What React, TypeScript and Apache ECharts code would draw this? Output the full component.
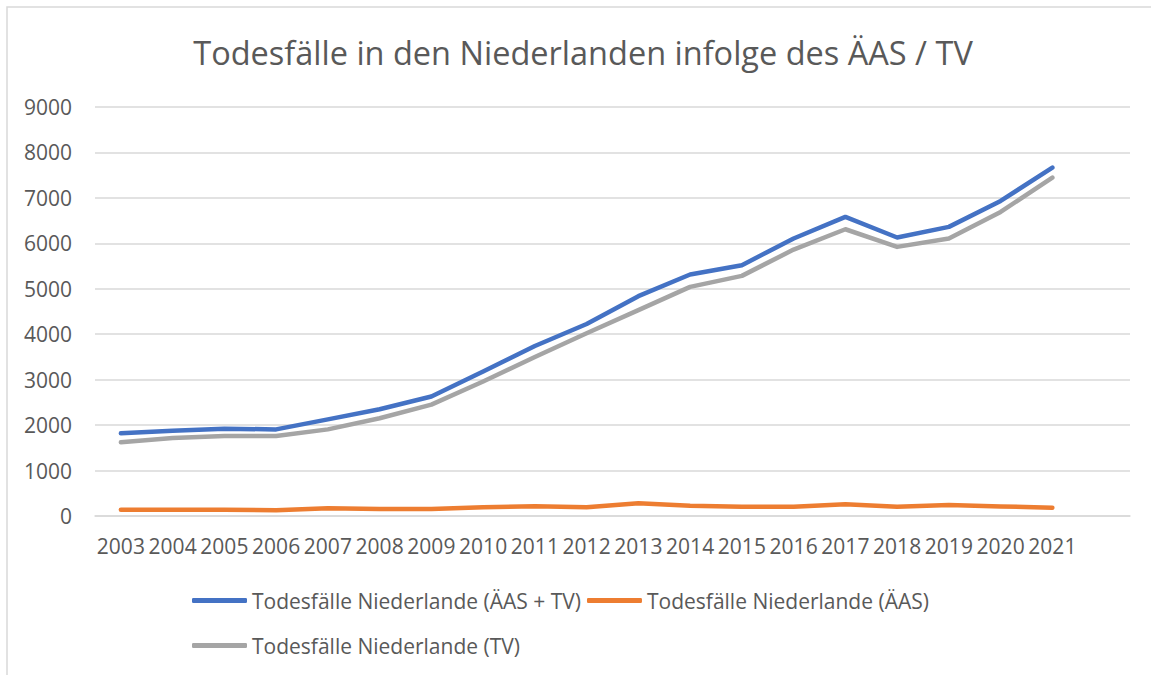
import React, { useEffect, useRef } from "react";
import * as echarts from "echarts";

const titleText = "Todesfälle in den Niederlanden infolge des ÄAS / TV";
const years = ["2003", "2004", "2005", "2006", "2007", "2008", "2009", "2010", "2011", "2012", "2013", "2014", "2015", "2016", "2017", "2018", "2019", "2020", "2021", ""];
const seriesNames = ["Todesfälle Niederlande (ÄAS + TV)", "Todesfälle Niederlande (ÄAS)", "Todesfälle Niederlande (TV)"];
const totalValues = [1820, 1876, 1920, 1906, 2126, 2350, 2630, 3180, 3740, 4225, 4837, 5314, 5519, 6106, 6582, 6128, 6362, 6934, 7667, null];
const aasValues = [139, 139, 139, 125, 169, 154, 154, 191, 213, 190, 279, 227, 205, 205, 257, 205, 242, 210, 183, null];
const tvValues = [1622, 1715, 1759, 1759, 1906, 2150, 2450, 2960, 3500, 4020, 4530, 5042, 5284, 5863, 6310, 5922, 6106, 6692, 7447, null];
const yTicks = { min: 0, max: 9000, interval: 1000 };
const colors = ["#4472C4", "#ED7D31", "#A5A5A5"];

const FONT = "'Open Sans', 'Noto Sans', sans-serif";
const TEXT = "#595959";

export default function App() {
  const ref = useRef<HTMLDivElement>(null);
  useEffect(() => {
    if (!ref.current) return;
    const chart = echarts.init(ref.current, undefined, { renderer: "svg" });
    const mk = (i: number, data: (number | null)[]) => ({
      name: seriesNames[i],
      type: "line",
      data,
      symbol: "none",
      lineStyle: { width: 4.5, color: colors[i], cap: "round", join: "round" },
      itemStyle: { color: colors[i] },
    });
    chart.setOption({
      animation: false,
      backgroundColor: "#ffffff",
      textStyle: { fontFamily: FONT },
      graphic: [
        {
          type: "rect",
          shape: { x: 7, y: 7, width: 1300, height: 900 },
          style: { fill: "none", stroke: "#d9d9d9", lineWidth: 1.5 },
          silent: true,
          z: -10,
        },
        {
          type: "text",
          x: 583,
          y: 52,
          style: {
            text: titleText,
            align: "center",
            verticalAlign: "middle",
            fontSize: 32.5,
            fontFamily: FONT,
            fill: TEXT,
          },
        },
      ],
      grid: { left: 95, right: 21, top: 107, bottom: 159, containLabel: false },
      legend: [
        {
          data: [seriesNames[0], seriesNames[1]],
          left: 187,
          top: 585,
          orient: "horizontal",
          icon: "roundRect",
          itemWidth: 55,
          itemHeight: 5,
          itemGap: 6,
          textStyle: { fontSize: 21, color: TEXT, fontFamily: FONT },
        },
        {
          data: [seriesNames[2]],
          left: 187,
          top: 630,
          orient: "horizontal",
          icon: "roundRect",
          itemWidth: 55,
          itemHeight: 5,
          textStyle: { fontSize: 21, color: TEXT, fontFamily: FONT },
        },
      ],
      xAxis: {
        type: "category",
        data: years,
        boundaryGap: true,
        axisTick: { show: false },
        axisLine: { show: true, lineStyle: { color: "#d9d9d9", width: 1.5 } },
        axisLabel: { interval: 0, fontSize: 21, color: TEXT, margin: 19, fontFamily: FONT },
        splitLine: { show: false },
      },
      yAxis: {
        type: "value",
        min: yTicks.min,
        max: yTicks.max,
        interval: yTicks.interval,
        axisLine: { show: false },
        axisTick: { show: false },
        axisLabel: {
          fontSize: 21,
          color: TEXT,
          margin: 23,
          fontFamily: FONT,
          formatter: (v: number) => String(v),
        },
        splitLine: { show: true, lineStyle: { color: "#d9d9d9", width: 1.5 } },
      },
      series: [mk(0, totalValues), mk(1, aasValues), mk(2, tvValues)],
    });
    return () => chart.dispose();
  }, []);
  return (
    <div
      ref={ref}
      style={{ position: "fixed", left: 0, top: 0, width: 1151, height: 675 }}
    />
  );
}
